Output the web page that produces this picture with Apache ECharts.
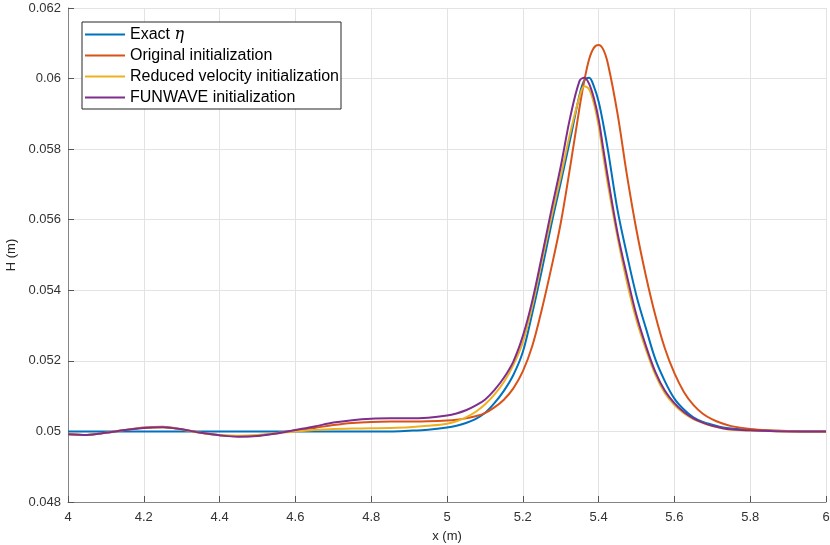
<!DOCTYPE html>
<html lang="en">
<head>
    <meta charset="utf-8">
    <script src="https://cdn.jsdelivr.net/npm/echarts@6/dist/echarts.min.js"></script>
</head>
<body style="margin:0;background:#fff;">
<div id="main" style="width:830px;height:545px;"></div>
<script>
    // x positions shared by all four curves (finer around the crest)
    var xs = [4.0, 4.05, 4.1, 4.15, 4.2, 4.25, 4.3, 4.35, 4.4, 4.45, 4.5, 4.55, 4.6, 4.65, 4.7, 4.75, 4.8, 4.85, 4.9, 4.95,
        5.0, 5.025, 5.05, 5.075, 5.1, 5.125, 5.15, 5.175, 5.2, 5.225, 5.25, 5.275, 5.3, 5.325, 5.35, 5.3625, 5.375, 5.3875,
        5.4, 5.4125, 5.425, 5.45, 5.475, 5.5, 5.525, 5.55, 5.575, 5.6, 5.625, 5.65, 5.675, 5.7, 5.725, 5.75,
        5.8, 5.85, 5.9, 5.95, 6.0];

    var exactEta = [0.05, 0.05, 0.05, 0.05, 0.05, 0.05, 0.05, 0.05, 0.05, 0.05, 0.05, 0.05, 0.05, 0.05, 0.05, 0.05, 0.05, 0.05, 0.05002, 0.05005,
        0.05011, 0.05016, 0.05024, 0.05035, 0.05052, 0.0508, 0.05115, 0.0516, 0.05225, 0.05335, 0.05456, 0.05585, 0.05705, 0.05828, 0.05955, 0.05995, 0.06002, 0.05978,
        0.05935, 0.0587, 0.05795, 0.05627, 0.055, 0.05384, 0.05292, 0.05204, 0.05142, 0.05093, 0.05062, 0.0504, 0.05027, 0.05019, 0.05012, 0.05008,
        0.05004, 0.05002, 0.05001, 0.05, 0.05];

    var originalInit = [0.04992, 0.0499, 0.04996, 0.05004, 0.05011, 0.05013, 0.05006, 0.04996, 0.04989, 0.04986, 0.04988, 0.04995, 0.05003, 0.0501, 0.05018, 0.05024, 0.05027, 0.05028, 0.05028, 0.05029,
        0.05031, 0.05033, 0.05037, 0.05043, 0.05052, 0.05068, 0.0509, 0.05122, 0.0517, 0.05242, 0.05345, 0.05462, 0.0559, 0.0575, 0.0592, 0.05995, 0.06055, 0.06087,
        0.06095, 0.06082, 0.0604, 0.059, 0.05725, 0.0557, 0.0544, 0.05328, 0.05235, 0.05165, 0.05112, 0.05075, 0.0505, 0.05034, 0.05023, 0.05015,
        0.05007, 0.05003, 0.05001, 0.05, 0.05];

    var reducedVelInit = [0.04992, 0.0499, 0.04996, 0.05004, 0.0501, 0.05012, 0.05005, 0.04996, 0.0499, 0.04988, 0.0499, 0.04995, 0.05, 0.05004, 0.05007, 0.05008, 0.05009, 0.0501, 0.05012, 0.05016,
        0.05022, 0.05029, 0.0504, 0.05055, 0.05076, 0.05104, 0.0514, 0.05188, 0.05252, 0.05355, 0.0548, 0.05605, 0.05722, 0.05845, 0.0595, 0.05978, 0.0597, 0.0593,
        0.05866, 0.0578, 0.05697, 0.0555, 0.05422, 0.05315, 0.05232, 0.0516, 0.05108, 0.05075, 0.05052, 0.05035, 0.05024, 0.05015, 0.05009, 0.05005,
        0.05002, 0.05001, 0.05, 0.05, 0.05];

    var funwaveInit = [0.04992, 0.0499, 0.04996, 0.05004, 0.0501, 0.05012, 0.05006, 0.04996, 0.04989, 0.04985, 0.04987, 0.04994, 0.05004, 0.05014, 0.05025, 0.05032, 0.05036, 0.05037, 0.05037, 0.05039,
        0.05045, 0.05051, 0.0506, 0.05073, 0.0509, 0.05117, 0.05152, 0.05198, 0.0527, 0.0537, 0.05495, 0.05625, 0.0575, 0.0589, 0.05994, 0.06002, 0.05985, 0.05945,
        0.05885, 0.058, 0.05716, 0.05562, 0.0544, 0.05329, 0.05242, 0.05168, 0.05115, 0.0508, 0.05055, 0.05037, 0.05025, 0.05016, 0.0501, 0.05006,
        0.05003, 0.05001, 0.05, 0.05, 0.05];

    var seriesNames = ['Exact η', 'Original initialization', 'Reduced velocity initialization', 'FUNWAVE initialization'];
    var seriesColors = ['#0072BD', '#D95319', '#EDB120', '#7E2F8E'];
    var seriesValues = [exactEta, originalInit, reducedVelInit, funwaveInit];

    function pairs(ys) {
        var out = [];
        for (var i = 0; i < xs.length; i++) {
            out.push([xs[i], ys[i]]);
        }
        return out;
    }

    var font = '"Liberation Sans", Arial, Helvetica, sans-serif';
    var chart = echarts.init(document.getElementById('main'));

    var series = [];
    for (var k = 0; k < seriesNames.length; k++) {
        series.push({
            name: seriesNames[k],
            type: 'line',
            data: pairs(seriesValues[k]),
            showSymbol: false,
            smooth: 0.35,
            lineStyle: {width: 2, color: seriesColors[k]},
            itemStyle: {color: seriesColors[k]},
            emphasis: {disabled: true}
        });
    }

    chart.setOption({
        animation: false,
        grid: {left: 68, right: 4, top: 8, bottom: 43, outerBoundsMode: 'none'},
        legend: {
            orient: 'vertical',
            left: 82,
            top: 22,
            icon: 'rect',
            itemWidth: 40,
            itemHeight: 2,
            itemGap: 0,
            padding: [2, 2, 1, 3],
            borderColor: '#262626',
            borderWidth: 1,
            backgroundColor: '#fff',
            textStyle: {
                fontFamily: font,
                fontSize: 16,
                lineHeight: 21,
                color: '#000',
                rich: {
                    eta: {fontFamily: '"DejaVu Serif", "Liberation Serif", serif', fontStyle: 'italic', fontSize: 16, lineHeight: 21, color: '#000'}
                }
            },
            formatter: function (name) {
                if (name === 'Exact η') {
                    return 'Exact {eta|η}';
                }
                return name;
            },
            data: seriesNames
        },
        xAxis: {
            type: 'value',
            min: 4,
            max: 6,
            interval: 0.2,
            name: 'x (m)',
            nameLocation: 'middle',
            nameGap: 28,
            nameTextStyle: {fontFamily: font, fontSize: 13, color: '#262626'},
            axisLine: {lineStyle: {color: '#858585', width: 1}},
            axisTick: {inside: true, length: 6, lineStyle: {color: '#555'}},
            axisLabel: {
                fontFamily: font, fontSize: 13, color: '#333', margin: 9,
                formatter: function (v) { return String(parseFloat(v.toFixed(1))); }
            },
            splitLine: {show: true, lineStyle: {color: '#e3e3e3', width: 1}}
        },
        yAxis: {
            type: 'value',
            min: 0.048,
            max: 0.062,
            interval: 0.002,
            name: 'H (m)',
            nameLocation: 'middle',
            nameGap: 47,
            nameTextStyle: {fontFamily: font, fontSize: 13, color: '#262626'},
            axisLine: {show: true, lineStyle: {color: '#858585', width: 1}},
            axisTick: {show: true, inside: true, length: 6, lineStyle: {color: '#555'}},
            axisLabel: {
                fontFamily: font, fontSize: 13, color: '#333', margin: 7,
                formatter: function (v) { return String(parseFloat(v.toFixed(3))); }
            },
            splitLine: {show: true, lineStyle: {color: '#e3e3e3', width: 1}}
        },
        series: series
    });
</script>
</body>
</html>
